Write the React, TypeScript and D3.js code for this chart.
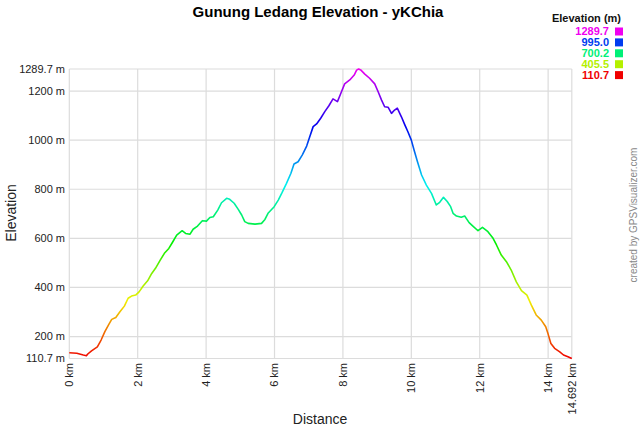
import React from "react";
import * as d3 from "d3";

const distanceKm = [
  0.0, 0.22, 0.41, 0.5, 0.54, 0.65, 0.82, 0.93, 1.04, 1.16, 1.24, 1.36, 1.48, 1.61, 1.72, 1.82, 1.94,
  2.04, 2.16, 2.29, 2.41, 2.52, 2.65, 2.78, 2.91, 3.01, 3.14, 3.3, 3.4, 3.53, 3.62, 3.75, 3.89,
  4.01, 4.11, 4.21, 4.34, 4.45, 4.6, 4.69, 4.82, 4.94, 5.04, 5.13, 5.23, 5.43, 5.62, 5.72, 5.81,
  5.99, 6.11, 6.22, 6.35, 6.48, 6.57, 6.69, 6.81, 6.94, 7.03, 7.13, 7.23, 7.35, 7.47, 7.59, 7.71,
  7.84, 7.94, 8.05, 8.2, 8.33, 8.4, 8.46, 8.52, 8.64, 8.78, 8.93, 9.03, 9.13, 9.22, 9.32, 9.42,
  9.49, 9.59, 9.71, 9.81, 9.9, 10.0, 10.08, 10.18, 10.3, 10.44, 10.59, 10.73, 10.83, 10.94, 11.05,
  11.15, 11.22, 11.32, 11.46, 11.56, 11.69, 11.8, 11.95, 12.08, 12.24, 12.39, 12.49, 12.63, 12.78,
  12.92, 13.07, 13.22, 13.38, 13.51, 13.65, 13.8, 13.93, 14.0, 14.08, 14.19, 14.34, 14.45, 14.58,
  14.692,
];

const elevationM = [
  134, 132, 125, 122, 129, 142, 158, 186, 220, 251, 270, 278, 301, 324, 356, 365, 369,
  382, 406, 427, 457, 478, 509, 539, 559, 582, 613, 631, 620, 617, 637, 650, 672,
  670, 685, 688, 715, 745, 763, 759, 743, 718, 695, 668, 661, 658, 661, 677, 702,
  729, 756, 786, 824, 865, 903, 912, 939, 976, 1014, 1055, 1066, 1089, 1116, 1140, 1168,
  1157, 1191, 1229, 1245, 1265, 1285, 1289.7, 1286, 1269, 1252, 1229, 1197, 1163, 1136, 1134, 1109,
  1120, 1130, 1095, 1062, 1034, 1000, 960, 912, 858, 817, 783, 736, 747, 767, 750,
  729, 702, 691, 686, 691, 664, 650, 631, 645, 627, 600, 573, 532, 505,
  471, 423, 387, 369, 328, 288, 267, 240, 210, 172, 152, 138, 125, 118,
  110.7,
];

const xTicks = [0, 2, 4, 6, 8, 10, 12, 14];
const xEnd = 14.692;
const yTicks = [200, 400, 600, 800, 1000, 1200];
const yMin = 110.7;
const yMax = 1289.7;
const legendValues = [1289.7, 995.0, 700.2, 405.5, 110.7];

const FONT = "Arial, 'Liberation Sans', sans-serif";

export default function App() {
  const W = 640;
  const H = 427;
  const x = d3.scaleLinear().domain([0, xEnd]).range([69.3, 571.8]);
  const y = d3.scaleLinear().domain([yMin, yMax]).range([358.5, 69]);
  const colorFor = (e: number) => d3.hsl((300 * (e - yMin)) / (yMax - yMin), 1, 0.47).formatHex();

  const pts: [number, number][] = distanceKm.map((d, i) => [d, elevationM[i]]);
  const line = d3
    .line<[number, number]>()
    .x((d) => x(d[0]))
    .y((d) => y(d[1]));

  const gradStops = d3.range(0, 1.0001, 0.05);
  const grid = "#dcdcdc";

  return (
    <svg
      width={W}
      height={H}
      style={{ position: "absolute", left: 0, top: 0, background: "#fff" }}
      fontFamily={FONT}
    >
      <defs>
        <linearGradient id="elevGrad" gradientUnits="userSpaceOnUse" x1={0} x2={0} y1={y(yMin)} y2={y(yMax)}>
          {gradStops.map((t) => (
            <stop key={t} offset={t} stopColor={colorFor(yMin + t * (yMax - yMin))} />
          ))}
        </linearGradient>
      </defs>
      <rect width={W} height={H} fill="#fff" />

      {/* title */}
      <text x={318} y={17} textAnchor="middle" fontSize={15} fontWeight="bold" fill="#000">
        Gunung Ledang Elevation - yKChia
      </text>

      {/* grid */}
      {[...yTicks, yMin, yMax].map((v) => (
        <line key={"h" + v} x1={x(0)} x2={x(xEnd)} y1={y(v)} y2={y(v)} stroke={grid} strokeWidth={1.2} />
      ))}
      {[...xTicks, xEnd].map((v) => (
        <line key={"v" + v} x1={x(v)} x2={x(v)} y1={y(yMax)} y2={y(yMin)} stroke={grid} strokeWidth={1.2} />
      ))}

      {/* y labels */}
      {[yMax, ...yTicks, yMin].map((v) => (
        <text key={"yl" + v} x={65} y={y(v)} dy="0.35em" textAnchor="end" fontSize={11} fill="#222">
          {(Number.isInteger(v) ? String(v) : v.toFixed(1)) + " m"}
        </text>
      ))}

      {/* x labels */}
      {[...xTicks, xEnd].map((v) => (
        <text
          key={"xl" + v}
          transform={`translate(${x(v)},${363}) rotate(-90)`}
          dy="0.35em"
          textAnchor="end"
          fontSize={11}
          fill="#222"
        >
          {(v === xEnd ? "14.692" : String(v)) + " km"}
        </text>
      ))}

      {/* axis titles */}
      <text transform={`translate(16,213) rotate(-90)`} textAnchor="middle" fontSize={14} fill="#222">
        Elevation
      </text>
      <text x={320} y={424} textAnchor="middle" fontSize={14} fill="#222">
        Distance
      </text>

      {/* profile */}
      <path d={line(pts) || ""} fill="none" stroke="url(#elevGrad)" strokeWidth={1.6} strokeLinejoin="round" />

      {/* legend */}
      <text x={621} y={22} textAnchor="end" fontSize={11} fontWeight="bold" fill="#111">
        Elevation (m)
      </text>
      {legendValues.map((v, i) => {
        const cy = 31.5 + i * 10.9;
        return (
          <g key={"lg" + v}>
            <text x={609} y={cy} dy="0.36em" textAnchor="end" fontSize={11} fontWeight="bold" fill={colorFor(v)}>
              {v.toFixed(1)}
            </text>
            <rect x={615} y={cy - 4} width={8} height={8} fill={colorFor(v)} />
          </g>
        );
      })}

      {/* credit */}
      <text transform={`translate(633,215) rotate(-90)`} dy="0.35em" textAnchor="middle" fontSize={10} fill="#888">
        created by GPSVisualizer.com
      </text>
    </svg>
  );
}
